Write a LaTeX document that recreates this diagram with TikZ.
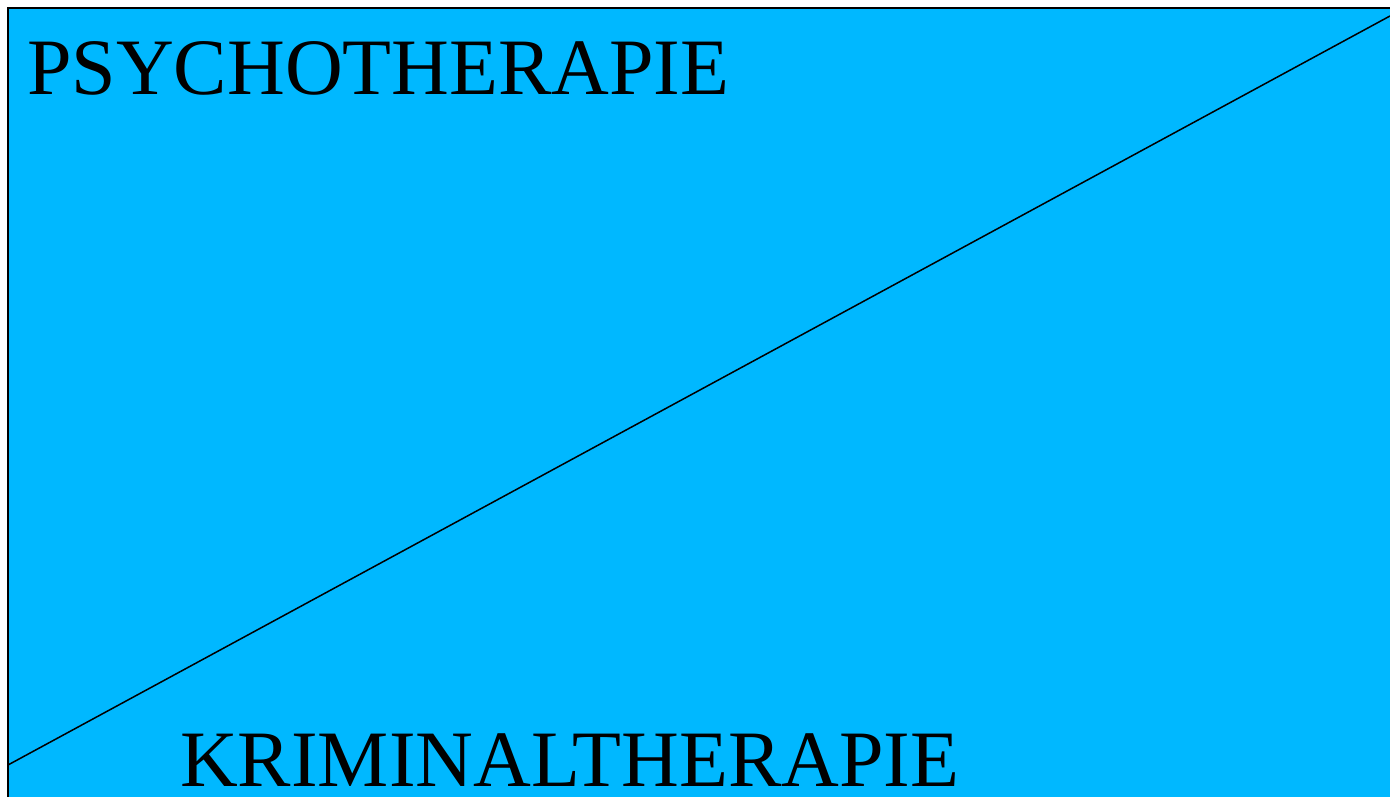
\documentclass[tikz,border=0pt]{standalone}
\usepackage{fontspec}
\setmainfont{Liberation Serif}
\definecolor{bgblue}{RGB}{0,184,255}
\tikzset{lbl/.style={anchor=base west,inner sep=0pt,font=\fontsize{80}{84}\selectfont}}
\begin{document}
\begin{tikzpicture}[x=1pt,y=1pt]
\useasboundingbox (0,0) rectangle (1390,797);
\fill[white] (0,0) rectangle (1390,797);
\draw[fill=bgblue,line width=2pt] (8,-5) rectangle (1400,789);
\coordinate (a) at (8,32);
\coordinate (b) at (1390,781);
\draw[line width=1.5pt] (a) -- (b);
\node[lbl] (p) at (27,702) {PSYCHOTHERAPIE};
\node[lbl] (k) at (180,10) {KRIMINALTHERAPIE};
\end{tikzpicture}
\end{document}
